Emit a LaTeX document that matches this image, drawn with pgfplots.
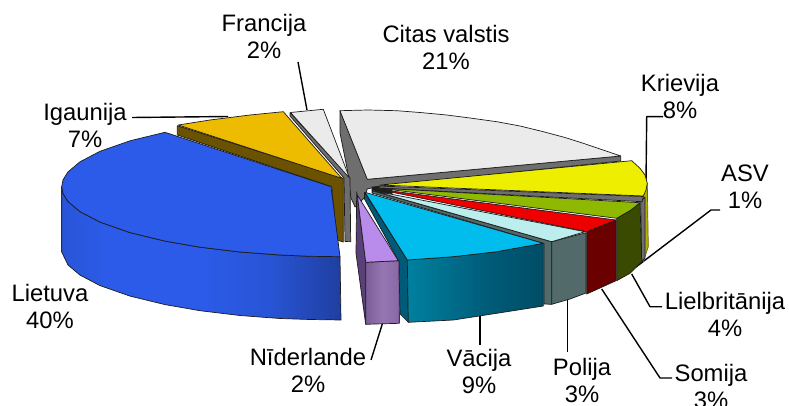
\documentclass[border=0pt]{standalone}
\usepackage{fontspec}
\setmainfont{Liberation Sans}
\usepackage{pgfplots}
\pgfplotsset{compat=1.18}

\definecolor{edge}{HTML}{1C1C1C}
\definecolor{citas}{HTML}{EBEBEB}
\definecolor{citass}{HTML}{6E6E6E}
\definecolor{igau}{HTML}{EDBB00}
\definecolor{igaus}{HTML}{6B5200}
\definecolor{liet}{HTML}{2B5BE8}
\definecolor{liets}{HTML}{1F3FA0}
\definecolor{krie}{HTML}{EEEE00}
\definecolor{kries}{HTML}{B4AE00}
\definecolor{lielb}{HTML}{8FB800}
\definecolor{lielbs}{HTML}{3A4A00}
\definecolor{som}{HTML}{EE0000}
\definecolor{soms}{HTML}{6B0000}
\definecolor{pol}{HTML}{BDEEEE}
\definecolor{pols}{HTML}{526A6A}
\definecolor{vac}{HTML}{00BDEE}
\definecolor{vacs}{HTML}{005B78}
\definecolor{vacl}{HTML}{00819F}
\definecolor{nid}{HTML}{B98BEA}
\definecolor{nidl}{HTML}{5A4078}
\definecolor{nidf}{HTML}{8A67A8}

% the middle 50bp of a shading is what fits the path
\pgfdeclarehorizontalshading{lietshade}{100bp}{
  color(0bp)=(liet!93!black); color(25bp)=(liet!93!black); color(33bp)=(liet);
  color(50bp)=(liet); color(62bp)=(liet!75!liets); color(75bp)=(liets); color(100bp)=(liets)}
\pgfdeclarehorizontalshading{vacshade}{100bp}{
  color(0bp)=(vacl); color(25bp)=(vacl); color(55bp)=(vacs); color(75bp)=(vacs!85!black); color(100bp)=(vacs!85!black)}
\pgfdeclarehorizontalshading{nidshade}{100bp}{
  color(0bp)=(nidf!90!black); color(25bp)=(nidf!90!black); color(50bp)=(nidf!90!white); color(75bp)=(nidf); color(100bp)=(nidf)}

\tikzset{lab/.style={font=\fontsize{23.8}{27}\selectfont, align=center, inner sep=0pt, text=black}}

\begin{document}
\begin{tikzpicture}
\useasboundingbox (0,0) rectangle (789pt,406pt);
\clip (0,0) rectangle (789pt,406pt);
\begin{axis}[
  at={(0,0)}, anchor=south west,
  hide axis, scale only axis,
  width=789pt, height=406pt,
  xmin=0, xmax=789, ymin=0, ymax=406,
  y dir=reverse, clip=false,
  every axis plot/.append style={line join=round, line width=0.7pt},
]
% leader lines
\addplot[black, line width=1.4pt] coordinates {(298,62) (307,110)};
\addplot[black, line width=1.4pt] coordinates {(132,117.5) (228,116.5)};
\addplot[black, line width=1.4pt] coordinates {(663,116.7) (646.7,116.7) (646,182)};
\addplot[black, line width=1.4pt] coordinates {(720,210) (711,210) (636,267)};
\addplot[black, line width=1.4pt] coordinates {(631.7,274) (650,306.7) (662,306.7)};
\addplot[black, line width=1.4pt] coordinates {(601.7,289) (660,378) (672,378)};
\addplot[black, line width=1.4pt] coordinates {(567.7,298) (567.7,352)};
\addplot[black, line width=1.4pt] coordinates {(480,316) (480,345)};
\addplot[black, line width=1.4pt] coordinates {(382.3,324) (371,360)};

% Citas valstis
\addplot[fill=citass, draw=edge] coordinates {(340,110.7) (340,133) (347,168) (351,198) (355,207) (364,198) (367.3,189) (380,186) (620.7,161) (620.7,156) (367.3,179.3)} -- cycle;
\addplot[fill=citas, draw=edge] coordinates {(340,110.7) (368,110) (396.7,110.7) (420,112.5) (446.7,115) (470,118) (496.7,121.7) (520,126) (543.3,131.7) (565,137.5) (583.3,143.3) (603,150) (620.7,156) (367.3,179.3)} -- cycle;

% Francija
\addplot[fill=citass, draw=edge] coordinates {(290,112.7) (290,116) (344,178) (345,241.5) (350.7,241.7) (350,178)} -- cycle;
\addplot[fill=citas, draw=edge] coordinates {(290.5,112.5) (323.3,109.3) (349.5,178)} -- cycle;

% Igaunija
\addplot[fill=igaus, draw=edge] coordinates {(177.3,125.7) (177.3,135) (331.7,186.7) (336.7,240) (343.3,242) (343.3,178.3)} -- cycle;
\addplot[fill=igau, draw=edge] coordinates {(178.3,125) (210,120) (250,115) (283.3,111.7) (341.7,178.3)} -- cycle;

% Lietuva
\addplot[shading=lietshade, draw=edge] coordinates {(61.7,186.7) (63,193.5) (68,201.5) (80,211.6) (100,222.1) (130,232.6) (165,241.1) (200,247.2) (240,252) (280,255) (310,256.3) (340,256.7) (341,320) (310,319.5) (280,318.5) (240,315.5) (200,310.7) (165,304.6) (130,296.1) (100,285.6) (80,275.1) (68,265) (61.7,252)} -- cycle;
\addplot[fill=liet, draw=edge] coordinates {(165,132.3) (130,140.8) (100,151.3) (80,161.8) (68,171.9) (63,179.9) (61.7,186.7) (63,193.5) (68,201.5) (80,211.6) (100,222.1) (130,232.6) (165,241.1) (200,247.2) (240,252) (280,255) (310,256.3) (340,256.7) (331,186.7)} -- cycle;

% dark core where the small slices meet
\addplot[fill=edge, draw=edge] coordinates {(372,187) (392,186) (392,194) (372,192)} -- cycle;

% Krievija
\addplot[fill=kries, draw=edge!50!kries] coordinates {(647.3,183.3) (648.3,246.7) (643.3,261.7) (643.3,196)} -- cycle;
\addplot[fill=krie, draw=edge] coordinates {(380,185) (631.7,160.7) (640,168.3) (645,175) (647.3,183.3) (646,190) (643.3,196)} -- cycle;

% ASV
\addplot[fill=citass, draw=edge] coordinates {(640.7,201.7) (641.7,261.7) (645,258) (645,197)} -- cycle;
\addplot[fill=citass, draw=edge] coordinates {(380,186) (643.3,196.5) (642,201.7) (378,188)} -- cycle;

% Lielbritanija
\addplot[fill=lielbs, draw=edge] coordinates {(640,202.7) (641.7,261.7) (630,273.3) (616.7,280.7) (616.7,218.3) (631,210)} -- cycle;
\addplot[fill=lielb, draw=edge] coordinates {(378,188) (640,202.7) (631,210) (616.7,218.3)} -- cycle;

% Somija
\addplot[fill=soms, draw=edge] coordinates {(616,220) (616,280.7) (600,288) (586.7,294) (586.7,231.7)} -- cycle;
\addplot[fill=som, draw=edge] coordinates {(376,189) (616,220) (586.7,231.7)} -- cycle;

% Polija
\addplot[fill=pols, draw=edge] coordinates {(373,191) (551.7,241.7) (551.7,304.3) (544,304) (544,243.5) (372,193)} -- cycle;
\addplot[fill=pols, draw=edge] coordinates {(551.7,241.7) (586,232.7) (586,293) (570,299) (551.7,304.3)} -- cycle;
\addplot[fill=pol, draw=edge] coordinates {(373,190.7) (585,231.7) (551.7,241.7)} -- cycle;

% Vacija
\addplot[fill=vacs, draw=edge] coordinates {(364.5,192.5) (407.3,260) (408.3,322.3) (400,314) (399,261.7) (364.5,199)} -- cycle;
\addplot[shading=vacshade, draw=edge] coordinates {(407.3,260) (453.3,256.7) (496.7,251.7) (543.3,243.3) (543.3,306) (496.7,313.3) (453.3,320) (408.3,322.3)} -- cycle;
\addplot[fill=vac, draw=edge] coordinates {(365,192.3) (543.3,243.3) (496.7,251.7) (453.3,256.7) (407.3,260)} -- cycle;

% Niderlande
\addplot[fill=nidl, draw=edge] coordinates {(356.7,191.7) (356,253.3) (365.7,324.3) (365.7,262.3)} -- cycle;
\addplot[shading=nidshade, draw=edge] coordinates {(365.7,262.3) (399,260.7) (399.3,323.3) (365.7,324.3)} -- cycle;
\addplot[fill=nid, draw=edge] coordinates {(357.3,195) (398.3,260.7) (365.7,262.3)} -- cycle;

% labels
\node[lab] at (axis cs:264,36) {Francija\\2\%};
\node[lab] at (axis cs:446,47) {Citas valstis\\21\%};
\node[lab] at (axis cs:680,96) {Krievija\\8\%};
\node[lab] at (axis cs:85,125) {Igaunija\\7\%};
\node[lab] at (axis cs:745,187) {ASV\\1\%};
\node[lab] at (axis cs:50,306) {Lietuva\\40\%};
\node[lab] at (axis cs:725,314) {Lielbritānija\\4\%};
\node[lab] at (axis cs:711,386) {Somija\\3\%};
\node[lab] at (axis cs:582,380.5) {Polija\\3\%};
\node[lab] at (axis cs:479,371) {Vācija\\9\%};
\node[lab] at (axis cs:308,370) {Nīderlande\\2\%};
\end{axis}
\end{tikzpicture}
\end{document}
